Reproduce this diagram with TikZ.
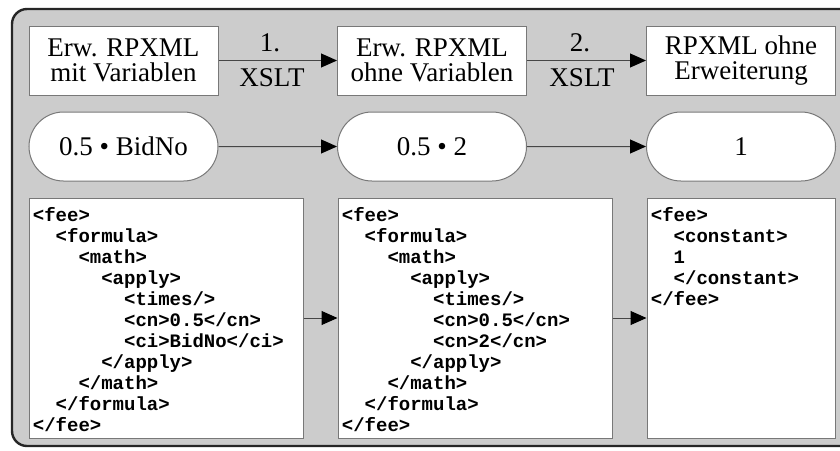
\documentclass[tikz,border=0pt]{standalone}
\usepackage{fontspec}
\setmainfont{Liberation Serif}
\newfontfamily\codefont{Liberation Mono}
\usetikzlibrary{arrows.meta,shapes.misc}
\definecolor{bggray}{RGB}{204,204,204}
\definecolor{boxline}{RGB}{120,120,120}
\definecolor{arrline}{RGB}{70,70,70}
\tikzset{
  titlebox/.style={draw=boxline, line width=0.5pt, fill=white, minimum width=94.5pt, minimum height=34.5pt, inner sep=0pt, align=center, font=\fontsize{13.5}{12.2}\selectfont},
  pillbox/.style={rounded rectangle, draw=boxline, line width=0.5pt, fill=white, minimum width=94.5pt, minimum height=34.5pt, inner sep=0pt, font=\fontsize{13.5}{12.2}\selectfont},
  codebox/.style={draw=boxline, line width=0.5pt, fill=white, minimum height=120pt, inner sep=0pt},
  codetext/.style={anchor=north west, inner sep=0pt, align=left, font=\codefont\bfseries\fontsize{9.5}{10.5}\selectfont},
  flow/.style={draw=arrline, line width=0.5pt, -{Triangle[length=8pt,width=7pt,fill=black,color=black]}},
  steplabel/.style={font=\fontsize{13.5}{12.2}\selectfont, inner sep=0pt},
}
\begin{document}
\begin{tikzpicture}[x=0.5pt,y=-0.5pt]
\useasboundingbox (0,0) rectangle (840,450);
\draw[fill=bggray, draw=black!85, line width=1.2pt, rounded corners=7.5pt] (12,9) rectangle (860,446);
% top row
\node[titlebox] (t1) at (123.5,60.5) {Erw. RPXML\\mit Variablen};
\node[titlebox] (t2) at (432,60.5) {Erw. RPXML\\ohne Variablen};
\node[titlebox] (t3) at (741,60.5) {RPXML ohne\\Erweiterung};
\draw[flow] (t1) -- (t2);
\draw[flow] (t2) -- (t3);
\node[steplabel] (l1a) at (270,43) {1.};
\node[steplabel] (l1b) at (272,78) {XSLT};
\node[steplabel] (l2a) at (580,43) {2.};
\node[steplabel] (l2b) at (582,78) {XSLT};
% middle row
\node[pillbox] (p1) at (123.5,146.5) {0.5 • BidNo};
\node[pillbox] (p2) at (432,146.5) {0.5 • 2};
\node[pillbox] (p3) at (741,146.5) {1};
\draw[flow] (p1) -- (p2);
\draw[flow] (p2) -- (p3);
% bottom row
\node[codebox, minimum width=137pt] (c1) at (166,318) {};
\node[codebox, minimum width=137pt] (c2) at (475,318) {};
\node[codebox, minimum width=94pt] (c3) at (741,318) {};
\draw[flow] (c1) -- (c2);
\draw[flow] (c2) -- (c3);
\node[codetext] (c1t) at ([xshift=2pt,yshift=-5pt]c1.north west) {%
\textless fee\textgreater\\
\ \ \textless formula\textgreater\\
\ \ \ \ \textless math\textgreater\\
\ \ \ \ \ \ \textless apply\textgreater\\
\ \ \ \ \ \ \ \ \textless times/\textgreater\\
\ \ \ \ \ \ \ \ \textless cn\textgreater 0.5\textless /cn\textgreater\\
\ \ \ \ \ \ \ \ \textless ci\textgreater BidNo\textless /ci\textgreater\\
\ \ \ \ \ \ \textless /apply\textgreater\\
\ \ \ \ \textless /math\textgreater\\
\ \ \textless /formula\textgreater\\
\textless /fee\textgreater};
\node[codetext] (c2t) at ([xshift=2pt,yshift=-5pt]c2.north west) {%
\textless fee\textgreater\\
\ \ \textless formula\textgreater\\
\ \ \ \ \textless math\textgreater\\
\ \ \ \ \ \ \textless apply\textgreater\\
\ \ \ \ \ \ \ \ \textless times/\textgreater\\
\ \ \ \ \ \ \ \ \textless cn\textgreater 0.5\textless /cn\textgreater\\
\ \ \ \ \ \ \ \ \textless cn\textgreater 2\textless /cn\textgreater\\
\ \ \ \ \ \ \textless /apply\textgreater\\
\ \ \ \ \textless /math\textgreater\\
\ \ \textless /formula\textgreater\\
\textless /fee\textgreater};
\node[codetext] (c3t) at ([xshift=2pt,yshift=-5pt]c3.north west) {%
\textless fee\textgreater\\
\ \ \textless constant\textgreater\\
\ \ 1\\
\ \ \textless /constant\textgreater\\
\textless /fee\textgreater};
\end{tikzpicture}
\end{document}
